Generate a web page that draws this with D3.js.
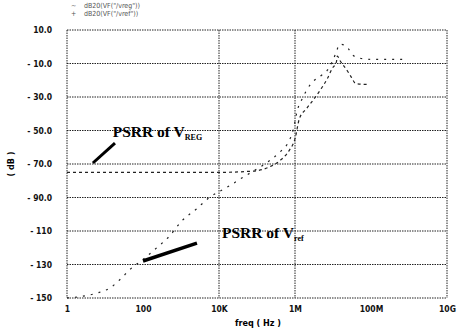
<!DOCTYPE html>
<html>
<head>
<meta charset="utf-8">
<script src="https://cdn.jsdelivr.net/npm/d3@7"></script>
<style>
  body { margin: 0; background: #fff; }
  svg { display: block; }
  .tick text { font-family: "DejaVu Sans Condensed", "DejaVu Sans", sans-serif; font-weight: bold; font-size: 8.5px; fill: #111; }
  .ann { font-family: "Liberation Serif", "DejaVu Serif", serif; font-weight: bold; fill: #000; }
</style>
</head>
<body>
<svg id="chart" width="457" height="330"></svg>
<script>
// data
const yTicks = [10, -10, -30, -50, -70, -90, -110, -130, -150];
const yTickLabels = ["10.0", "- 10.0", "- 30.0", "- 50.0", "- 70.0", "- 90.0", "- 110", "- 130", "- 150"];
const xTicks = [1, 100, 1e4, 1e6, 1e8, 1e10];
const xTickLabels = ["1", "100", "10K", "1M", "100M", "10G"];
const xGrid = [1e4, 1e6];

const vrefFreq = [1, 2.5, 6.3, 13.5, 27.5, 45, 100, 230, 500, 1050, 2500, 5600, 16000, 50000,
  160000, 440000, 630000, 910000, 1150000, 1550000, 2140000, 3240000, 5000000, 7100000,
  9500000, 12300000, 14800000, 20000000, 25000000, 36000000, 75000000, 1e8, 3.2e8, 8.3e8];
const vrefDb = [-150, -149, -147, -144, -138, -133, -127, -120, -113, -104, -97, -90, -84, -77,
  -70, -62, -58, -49, -38, -31, -25, -20, -17, -14, -9, -3, 1.5, 1.0, -1, -5.6, -7.4, -7.5, -7.5, -7.5];

const vregFreq = [1, 100, 1e4, 5e4, 1e5, 2e5, 4e5, 7e5, 1e6, 1.3e6, 2e6, 3.2e6, 4.9e6, 7.1e6,
  9.5e6, 12.3e6, 13e6, 15e6, 24e6, 30e6, 40e6, 80e6];
const vregDb = [-75, -75, -75, -74.5, -74, -72, -68, -62, -55, -43, -37, -31, -25, -19, -13, -9,
  -5.6, -8, -14.5, -18, -22, -22.5];

const legendLabels = ['dB20(VF("/vreg"))', 'dB20(VF("/vref"))'];
const legendMarks = ["~", "+"];

const svg = d3.select("#chart");
const mLeft = 67, mRight = 447, mTop = 30, mBottom = 298;

const x = d3.scaleLog().domain([1, 1e10]).range([mLeft, mRight]);
const y = d3.scaleLinear().domain([-150, 10]).range([mBottom, mTop]);

// grid
const grid = svg.append("g").attr("stroke", "#222").attr("stroke-width", 1)
  .attr("stroke-dasharray", "1.5,1");
grid.selectAll(".hg").data(yTicks).join("line")
  .attr("x1", mLeft).attr("x2", mRight)
  .attr("y1", d => y(d)).attr("y2", d => y(d));
grid.selectAll(".vg").data(xGrid.concat([1, 1e10])).join("line")
  .attr("x1", d => x(d)).attr("x2", d => x(d))
  .attr("y1", mTop).attr("y2", mBottom);

// axes
const yAxis = svg.append("g").attr("transform", `translate(${mLeft - 12},0)`)
  .call(d3.axisLeft(y).tickValues(yTicks).tickFormat((d, i) => yTickLabels[i]).tickSize(0));
yAxis.select(".domain").remove();

const xAxis = svg.append("g").attr("transform", `translate(0,${mBottom + 5})`)
  .call(d3.axisBottom(x).tickValues(xTicks).tickFormat((d, i) => xTickLabels[i]).tickSize(0));
xAxis.select(".domain").remove();

svg.append("text").attr("x", 258).attr("y", 326).attr("text-anchor", "middle")
  .attr("font-family", "DejaVu Sans Condensed, DejaVu Sans, sans-serif").attr("font-weight", "bold")
  .attr("font-size", 9).text("freq ( Hz )");
svg.append("text").attr("transform", "translate(14,164) rotate(-90)").attr("text-anchor", "middle")
  .attr("font-family", "DejaVu Sans Condensed, DejaVu Sans, sans-serif").attr("font-weight", "bold")
  .attr("font-size", 9).text("( dB )");

// legend
const leg = svg.append("g").attr("font-family", "DejaVu Sans Condensed, DejaVu Sans, sans-serif")
  .attr("font-size", 7).attr("fill", "#555");
legendLabels.forEach((t, i) => {
  leg.append("text").attr("x", 71).attr("y", 8 + i * 8).text(legendMarks[i]);
  leg.append("text").attr("x", 84).attr("y", 8 + i * 8).text(t);
});

// curves (sparse dashes like the plotter output)
const line = d3.line().x(d => x(d[0])).y(d => y(d[1])).curve(d3.curveMonotoneX);
svg.append("path").datum(d3.zip(vrefFreq, vrefDb)).attr("d", line)
  .attr("fill", "none").attr("stroke", "#222").attr("stroke-width", 1.2).attr("stroke-dasharray", "2,6");
svg.append("path").datum(d3.zip(vregFreq, vregDb)).attr("d", line)
  .attr("fill", "none").attr("stroke", "#222").attr("stroke-width", 1.2).attr("stroke-dasharray", "3,3");

// annotations
function label(fx, fy, main, sub) {
  const t = svg.append("text").attr("class", "ann").attr("x", x(fx)).attr("y", y(fy)).attr("font-size", 15.5);
  t.append("tspan").text(main);
  t.append("tspan").attr("font-size", 8).attr("dy", 3).text(sub);
}
label(16, -54, "PSRR of V", "REG");
label(12000, -114, "PSRR of V", "ref");

svg.append("line").attr("x1", x(18.3)).attr("y1", y(-57.5)).attr("x2", x(4.8)).attr("y2", y(-69.4))
  .attr("stroke", "#000").attr("stroke-width", 3);
svg.append("line").attr("x1", x(2630)).attr("y1", y(-117.2)).attr("x2", x(100)).attr("y2", y(-127.9))
  .attr("stroke", "#000").attr("stroke-width", 3.5);
</script>
</body>
</html>
